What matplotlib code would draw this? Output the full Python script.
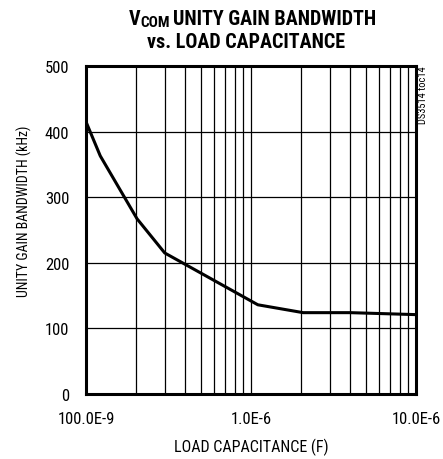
import numpy as np
import matplotlib.pyplot as plt

# condensed sans similar to the datasheet font
plt.rcParams.update({'font.family': ['Roboto Condensed', 'DejaVu Sans'], 'font.size': 10.5})

# data
cap = [1.0e-7, 1.22e-7, 2.04e-7, 3.0e-7, 1.1e-6, 2.07e-6, 4.0e-6, 1.0e-5]
ugbw = [415, 363, 267, 215, 136, 124, 124, 121]
xticks = [1e-7, 1e-6, 1e-5]
xticklabels = ['100.0E-9', '1.0E-6', '10.0E-6']
yticks = [0, 100, 200, 300, 400, 500]

fig = plt.figure(figsize=(4.43, 4.6), dpi=100)
ax = fig.add_axes([86 / 443, 1 - 395 / 460, 330 / 443, 328 / 460])

ax.plot(cap, ugbw, '-', color='black', lw=2.2, solid_joinstyle='round')

ax.set_xscale('log')
ax.set_xlim(1e-7, 1e-5)
ax.set_ylim(0, 500)
ax.set_xticks(xticks)
ax.set_xticklabels(xticklabels)
ax.set_yticks(yticks)
ax.tick_params(which='both', length=0, labelsize=12)
ax.tick_params(axis='y', pad=12)
ax.tick_params(axis='x', pad=12)
ax.grid(which='both', axis='x', color='black', lw=0.9)
ax.grid(which='major', axis='y', color='black', lw=0.9)
for s in ax.spines.values():
    s.set_linewidth(2.2)

ax.set_xlabel('LOAD CAPACITANCE (F)', fontsize=11.5, labelpad=9)
ax.set_ylabel('UNITY GAIN BANDWIDTH (kHz)', fontsize=10, va='center')
ax.yaxis.set_label_coords(-0.188, 0.56)

# title: V with COM subscript, then the rest
t_main = fig.text(0.5 + 53 / 443, 1 - 25 / 460, 'UNITY GAIN BANDWIDTH', ha='center', va='baseline',
                  fontsize=14.5, fontweight='bold')
fig.canvas.draw()
bb = t_main.get_window_extent()
com = fig.text(bb.x0 - 3, 460 - 27, 'COM', transform=None, ha='right', va='baseline',
               fontsize=11, fontweight='bold')
fig.canvas.draw()
cb = com.get_window_extent()
fig.text(cb.x0, 460 - 25, 'V', transform=None, ha='right', va='baseline',
         fontsize=14.5, fontweight='bold')
fig.text(0.5 + 25 / 443, 1 - 48 / 460, 'vs. LOAD CAPACITANCE', ha='center', va='baseline',
         fontsize=14.5, fontweight='bold')

fig.text(418 / 443, 1 - 66 / 460, 'DS3514 toc14', rotation=90, ha='left', va='top', fontsize=7.5)

fig.savefig('out.png', dpi=100)
